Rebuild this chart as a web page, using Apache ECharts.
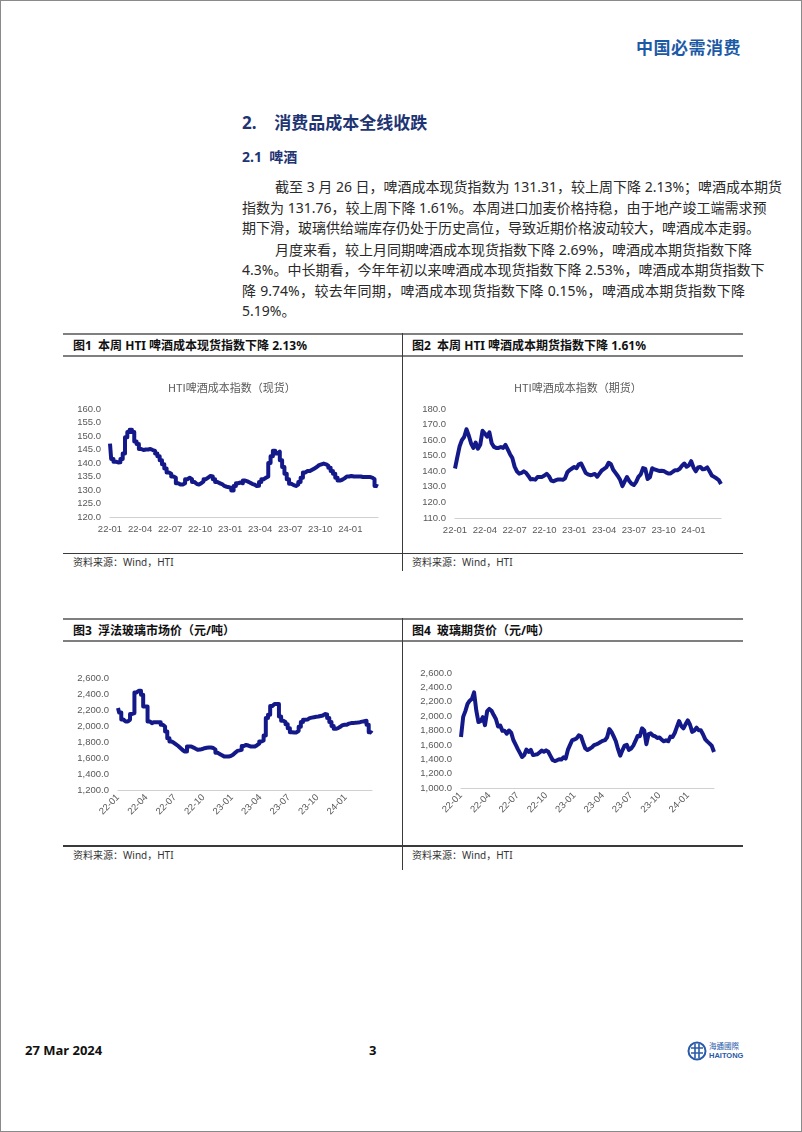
<!DOCTYPE html>
<html>
<head>
<meta charset="utf-8">
<script src="https://cdn.jsdelivr.net/npm/echarts@6/dist/echarts.min.js"></script>
<style>
  html, body { margin: 0; padding: 0; background: #fff; }
  body { width: 802px; height: 1132px; position: relative; overflow: hidden;
         font-family: "Noto Sans", "Noto Sans CJK SC", sans-serif; color: #222; }
  .abs { position: absolute; }
  .page { left: 0; top: 0; width: 800px; height: 1130px; border: 1px solid #8a8a8a; }
  .hdr { left: 636px; top: 34px; font-size: 17px; font-weight: bold; color: #1d5aa6; letter-spacing: 0.5px; }
  .h1 { left: 242px; top: 109px; font-size: 17px; font-weight: bold; color: #1f3473; }
  .h2 { left: 242px; top: 146px; font-size: 14px; font-weight: bold; color: #1f3473; }
  .line { left: 242px; width: 503px; font-size: 14px; line-height: 20.5px; height: 20.5px;
          text-align: justify; text-align-last: justify; white-space: nowrap; color: #2a2a2a; }
  .line.last { text-align-last: left; }
  .rule { background: #7f7f7f; }
  .dark { background: #3a3a3a; }
  .ftitle { font-size: 12px; font-weight: bold; color: #111; }
  .src { font-size: 10px; color: #333; }
  .chart { position: absolute; }
  .foot { font-size: 13px; font-weight: bold; color: #111; }
</style>
</head>
<body>
<div class="abs page"></div>
<div class="abs hdr">中国必需消费</div>

<div class="abs h1">2.&nbsp;&nbsp;&nbsp;&nbsp;消费品成本全线收跌</div>
<div class="abs h2">2.1&nbsp;&nbsp;啤酒</div>

<div class="abs line" style="top:177px; left:275px; width:470px;">截至 3 月 26 日，啤酒成本现货指数为 131.31，较上周下降 2.13%；啤酒成本期货</div>
<div class="abs line" style="top:198px;">指数为 131.76，较上周下降 1.61%。本周进口加麦价格持稳，由于地产竣工端需求预</div>
<div class="abs line last" style="top:218px;">期下滑，玻璃供给端库存仍处于历史高位，导致近期价格波动较大，啤酒成本走弱。</div>

<div class="abs line" style="top:240px; left:275px; width:470px;">月度来看，较上月同期啤酒成本现货指数下降 2.69%，啤酒成本期货指数下降</div>
<div class="abs line" style="top:260px;">4.3%。中长期看，今年年初以来啤酒成本现货指数下降 2.53%，啤酒成本期货指数下</div>
<div class="abs line" style="top:281px;">降 9.74%，较去年同期，啤酒成本现货指数下降 0.15%，啤酒成本期货指数下降</div>
<div class="abs line last" style="top:301px;">5.19%。</div>

<!-- figure row 1 -->
<div class="abs rule" style="left:63px; top:333px; width:680px; height:2px;"></div>
<div class="abs rule" style="left:63px; top:355px; width:680px; height:2px;"></div>
<div class="abs dark" style="left:63px; top:553px; width:680px; height:1px;"></div>
<div class="abs dark" style="left:402px; top:333px; width:1px; height:238px;"></div>
<div class="abs ftitle" style="left:73px; top:336px;">图1&nbsp;&nbsp;本周 HTI 啤酒成本现货指数下降 2.13%</div>
<div class="abs ftitle" style="left:412px; top:336px;">图2&nbsp;&nbsp;本周 HTI 啤酒成本期货指数下降 1.61%</div>
<div class="abs src" style="left:73px; top:554px;">资料来源：Wind，HTI</div>
<div class="abs src" style="left:412px; top:554px;">资料来源：Wind，HTI</div>
<div id="c1" class="chart" style="left:63px; top:357px; width:338px; height:195px;"></div>
<div id="c2" class="chart" style="left:404px; top:357px; width:339px; height:195px;"></div>

<!-- figure row 2 -->
<div class="abs rule" style="left:63px; top:618px; width:680px; height:2px;"></div>
<div class="abs rule" style="left:63px; top:640px; width:680px; height:2px;"></div>
<div class="abs dark" style="left:63px; top:845px; width:680px; height:2px;"></div>
<div class="abs dark" style="left:402px; top:618px; width:1px; height:252px;"></div>
<div class="abs ftitle" style="left:73px; top:621px;">图3&nbsp;&nbsp;浮法玻璃市场价（元/吨）</div>
<div class="abs ftitle" style="left:412px; top:621px;">图4&nbsp;&nbsp;玻璃期货价（元/吨）</div>
<div class="abs src" style="left:73px; top:847px;">资料来源：Wind，HTI</div>
<div class="abs src" style="left:412px; top:847px;">资料来源：Wind，HTI</div>
<div id="c3" class="chart" style="left:63px; top:642px; width:338px; height:203px;"></div>
<div id="c4" class="chart" style="left:404px; top:642px; width:339px; height:203px;"></div>

<!-- footer -->
<div class="abs foot" style="left:25px; top:1041px;">27 Mar 2024</div>
<div class="abs foot" style="left:369px; top:1041px;">3</div>
<svg class="abs" style="left:687px; top:1040px;" width="70" height="22" viewBox="0 0 70 22">
  <circle cx="10" cy="11" r="8.5" fill="none" stroke="#2b5ba8" stroke-width="2"/>
  <path d="M4 8 H16 M4 13 H16 M8 4 V18 M12 4 V18" stroke="#2b5ba8" stroke-width="1.6" fill="none"/>
  <text x="22" y="9" font-size="7.5" fill="#2b5ba8" font-family="Noto Sans CJK TC">海通國際</text>
  <text x="22" y="18" font-size="7.5" font-weight="bold" fill="#2b5ba8" font-family="Liberation Sans">HAITONG</text>
</svg>

<script>
// 周度日期（2022-01-04 ~ 2024-03-26）
const weeks = []
for (let d = new Date(Date.UTC(2022, 0, 4)); d.getTime() <= Date.UTC(2024, 2, 26); d.setUTCDate(d.getUTCDate() + 7)) {
  weeks.push(d.toISOString().slice(0, 10))
}

// HTI啤酒成本指数（现货）
const spotIndex = [147.2, 141.5, 140.5, 140.2, 140.3, 141.5, 143.5, 149.5, 151.5, 152.3,
  151.5, 148, 147, 145.2, 144.8, 145, 145, 145.2, 144.8, 144.5,
  143.5, 142.5, 141, 139.5, 138, 136.5, 136, 135, 134.5, 132.5,
  132, 132, 132.5, 134, 134.5, 134, 133, 132.3, 132, 132.5,
  133.2, 134, 134.6, 135.2, 135, 134, 133, 132.5, 132.2, 131.5,
  131.2, 131, 130.8, 129.8, 131.5, 132.5, 132.8, 132.5, 133.5, 133.2,
  132.8, 132.3, 132, 131.5, 131.6, 133, 134, 134.5, 135, 140,
  142.5, 144.5, 143.5, 144.2, 141, 138.5, 136, 134, 132.3, 131.8,
  131.5, 132, 133, 134.5, 136.5, 137, 137, 137.5, 138, 138.5,
  139.2, 139.5, 139.8, 139.5, 139, 138.2, 137, 136, 134.5, 133.5,
  133.8, 134.3, 135, 135, 135.2, 135, 135, 135, 135, 134.8,
  134.8, 134.8, 134.8, 134.6, 134, 131.5, 131.3]

// HTI啤酒成本指数（期货）
const futuresIndex = [141.8, 149, 156, 160, 162, 167, 163, 158, 155, 158.5,
  154.5, 157, 166, 164.3, 162.3, 165, 158, 155.7, 155, 155,
  155.6, 155, 157, 154, 151, 148.5, 143, 140, 138.5, 139,
  140, 139, 137, 134.8, 135, 134.6, 136.4, 136.4, 136.4, 137.3,
  138.4, 136.8, 134, 133.6, 134.3, 134.8, 134.8, 134.5, 135.5, 139.4,
  140.8, 141.8, 142.8, 142, 144.5, 145, 142, 139, 138, 137.5,
  137.8, 138.3, 136.5, 138.5, 140.5, 141.5, 142.6, 145.5, 144.5, 141,
  139, 137, 134.5, 130.5, 133.5, 136.3, 133.8, 132, 131.2, 133.2,
  136.4, 138, 142, 141.5, 135, 136.2, 142, 141.2, 140.7, 140.2,
  140.3, 140.2, 139.3, 138.6, 138.6, 139.7, 140.7, 140.7, 141.6, 143.6,
  145, 142.9, 143.8, 146.5, 142.5, 140, 142.5, 142.8, 141.3, 141.5,
  142.5, 140, 137.3, 136.4, 135.5, 134.4, 131.8]

// 浮法玻璃市场价（元/吨）
const glassSpot = [2224, 2170, 2080, 2057, 2057, 2080, 2150, 2161, 2420, 2441,
  2441, 2391, 2245, 2245, 2057, 2036, 2048, 2048, 2048, 2048,
  2015, 1994, 1930, 1848, 1806, 1790, 1770, 1750, 1725, 1700,
  1681, 1681, 1743, 1743, 1730, 1715, 1702, 1705, 1712, 1722,
  1728, 1731, 1731, 1725, 1705, 1665, 1648, 1635, 1618, 1618,
  1618, 1625, 1640, 1665, 1689, 1695, 1702, 1750, 1764, 1756,
  1745, 1743, 1743, 1760, 1780, 1806, 1820, 1880, 2100, 2140,
  2250, 2274, 2274, 2274, 2120, 2065, 2050, 2023, 1973, 1923,
  1919, 1920, 1940, 1990, 2050, 2078, 2080, 2098, 2105, 2110,
  2115, 2118, 2125, 2132, 2149, 2145, 2100, 2050, 2000, 1965,
  1973, 1990, 2010, 2015, 2015, 2030, 2036, 2036, 2042, 2044,
  2048, 2055, 2060, 2065, 2015, 1923, 1910]

// 玻璃期货价（元/吨）
const glassFutures = [1709, 1990, 2070, 2170, 2215, 2240, 2330, 2080, 1918, 1930,
  1985, 1875, 2070, 2100, 2075, 2015, 1960, 1855, 1868, 1795,
  1795, 1756, 1800, 1770, 1668, 1607, 1545, 1488, 1431, 1460,
  1535, 1501, 1530, 1460, 1464, 1470, 1495, 1520, 1505, 1524,
  1505, 1447, 1390, 1375, 1385, 1400, 1395, 1428, 1410, 1530,
  1600, 1665, 1675, 1690, 1733, 1720, 1630, 1550, 1528, 1547,
  1565, 1597, 1608, 1620, 1640, 1656, 1665, 1705, 1820, 1780,
  1718, 1650, 1540, 1450, 1524, 1590, 1600, 1530, 1550, 1590,
  1655, 1725, 1720, 1830, 1802, 1610, 1750, 1760, 1730, 1720,
  1695, 1702, 1672, 1650, 1663, 1650, 1715, 1710, 1765, 1850,
  1932, 1862, 1830, 1890, 1941, 1880, 1780, 1800, 1840, 1802,
  1802, 1745, 1676, 1645, 1617, 1585, 1501]

const LINE_COLOR = '#14198a'
const LABEL_COLOR = '#595959'

// 每季度首周显示 yy-mm
function isQuarterStart (value) {
  const m = +value.slice(5, 7)
  const d = +value.slice(8, 10)
  return d <= 7 && (m - 1) % 3 === 0
}

function fmt1 (v) {
  return v.toFixed(1)
}
function fmtThousand (v) {
  return Number(v).toLocaleString('en-US', { minimumFractionDigits: 1, maximumFractionDigits: 1 })
}

function makeChart (id, cfg) {
  const chart = echarts.init(document.getElementById(id))
  const option = {
    animation: false,
    title: cfg.title ? {
      text: cfg.title,
      left: cfg.titleLeft,
      top: 20,
      textStyle: { fontSize: 11, fontWeight: 'normal', color: '#595959', fontFamily: 'Noto Sans CJK SC' }
    } : undefined,
    grid: cfg.grid,
    xAxis: {
      type: 'category',
      data: weeks,
      boundaryGap: false,
      axisLine: { lineStyle: { color: '#d0d0d0', width: 1 } },
      axisTick: { show: false },
      axisLabel: {
        interval: function (index, value) { return isQuarterStart(value) },
        formatter: function (value) { return value.slice(2, 7) },
        color: LABEL_COLOR,
        fontSize: 9.5,
        fontFamily: 'Liberation Sans',
        rotate: cfg.rotate || 0,
        margin: cfg.rotate ? 6 : 7
      }
    },
    yAxis: {
      type: 'value',
      min: cfg.min,
      max: cfg.max,
      interval: cfg.interval,
      axisLine: { show: false },
      axisTick: { show: false },
      splitLine: { show: false },
      axisLabel: {
        formatter: cfg.fmt,
        color: LABEL_COLOR,
        fontSize: 9.5,
        fontFamily: 'Liberation Sans',
        margin: 9
      }
    },
    series: [{
      type: 'line',
      data: cfg.data,
      step: cfg.step || false,
      showSymbol: false,
      lineStyle: { color: LINE_COLOR, width: 4, join: 'round' }
    }]
  }
  chart.setOption(option)
  return chart
}

makeChart('c1', {
  title: 'HTI啤酒成本指数（现货）', titleLeft: 100,
  grid: { left: 47, right: 23, top: 52, bottom: 35 },
  min: 120, max: 160, interval: 5, fmt: fmt1, data: spotIndex, step: 'middle'
})
makeChart('c2', {
  title: 'HTI啤酒成本指数（期货）', titleLeft: 105,
  grid: { left: 51, right: 22, top: 52, bottom: 34 },
  min: 110, max: 180, interval: 10, fmt: fmt1, data: futuresIndex
})
makeChart('c3', {
  grid: { left: 55, right: 29, top: 36, bottom: 55 },
  min: 1200, max: 2600, interval: 200, fmt: fmtThousand, data: glassSpot, step: 'middle', rotate: 45
})
makeChart('c4', {
  grid: { left: 57, right: 29, top: 31, bottom: 57 },
  min: 1000, max: 2600, interval: 200, fmt: fmtThousand, data: glassFutures, rotate: 45
})
</script>
</body>
</html>
